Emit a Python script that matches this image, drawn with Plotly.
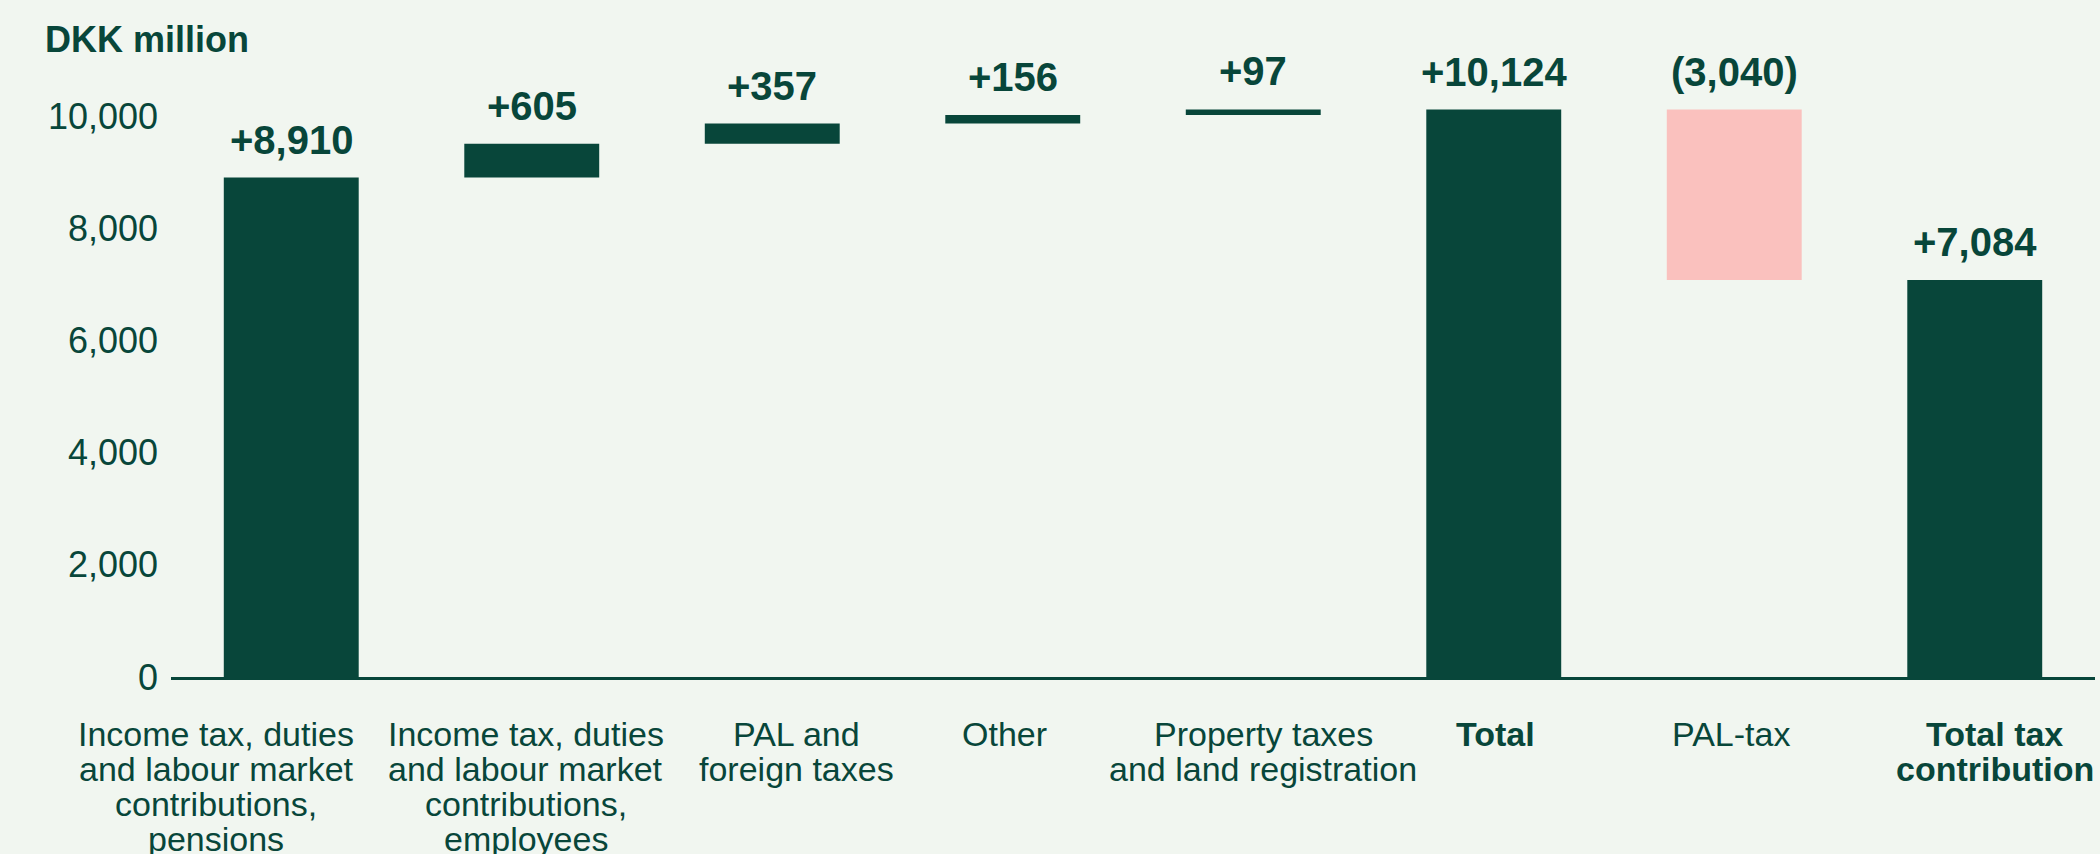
import plotly.graph_objects as go

# Data
categories = [
    "Income tax, duties<br>and labour market<br>contributions,<br>pensions",
    "Income tax, duties<br>and labour market<br>contributions,<br>employees",
    "PAL and<br>foreign taxes",
    "Other",
    "Property taxes<br>and land registration",
    "Total",
    "PAL-tax",
    "Total tax<br>contribution",
]
bold_category = [False, False, False, False, False, True, False, True]
values = [8910, 605, 357, 156, 97, 10124, -3040, 7084]
measures = ["relative", "relative", "relative", "relative", "relative", "total", "relative", "total"]
value_labels = ["+8,910", "+605", "+357", "+156", "+97", "+10,124", "(3,040)", "+7,084"]
y_ticks = [0, 2000, 4000, 6000, 8000, 10000]

DARK = "#08463A"
PINK = "#FAC1BE"
BG = "#F1F6F0"
FONT = "Liberation Sans, Arial, sans-serif"

# horizontal nudges for the category labels (px), the first one sits left of its bar
label_xshift = [-75, -6, 24, -8, 10, 2, -3, 20]
LINE_STEP = 35

# Bases and heights for the floating bars
bases, heights, colors = [], [], []
running = 0
for v, m in zip(values, measures):
    if m == "total":
        bases.append(0)
        heights.append(v)
        running = v
        colors.append(DARK)
    elif v >= 0:
        bases.append(running)
        heights.append(v)
        running += v
        colors.append(DARK)
    else:
        bases.append(running + v)
        heights.append(-v)
        running += v
        colors.append(PINK)

fig = go.Figure(go.Bar(
    x=list(range(len(categories))),
    y=heights,
    base=bases,
    marker=dict(color=colors, line=dict(width=0)),
    hoverinfo="skip",
))

# Value labels above each bar
for i, (b, h, t) in enumerate(zip(bases, heights, value_labels)):
    fig.add_annotation(
        x=i, y=b + h, text=f"<b>{t}</b>",
        showarrow=False, yanchor="bottom", yshift=14,
        font=dict(size=40, color=DARK, family=FONT),
    )

# Category labels, one annotation per line to keep the tight line spacing
for i, (cat, bold) in enumerate(zip(categories, bold_category)):
    for k, line in enumerate(cat.split("<br>")):
        fig.add_annotation(
            x=i, xref="x", y=0, yref="paper",
            text=f"<b>{line}</b>" if bold else line,
            showarrow=False, xanchor="center", yanchor="top",
            xshift=label_xshift[i], yshift=-36 - k * LINE_STEP,
            font=dict(size=34, color=DARK, family=FONT),
        )

fig.update_layout(
    width=2100, height=854,
    paper_bgcolor=BG, plot_bgcolor=BG,
    margin=dict(l=171, r=5, t=66, b=177),
    bargap=0.439,
    showlegend=False,
    font=dict(family=FONT, color=DARK),
    title=dict(
        text="<b>DKK million</b>",
        font=dict(size=36, color=DARK, family=FONT),
        x=45 / 2100, xanchor="left", xref="container",
        y=1 - 39.5 / 854, yanchor="middle", yref="container",
    ),
)

fig.update_xaxes(
    range=[-0.5, len(categories) - 0.5],
    showgrid=False, zeroline=False, showticklabels=False,
    showline=True, linecolor=DARK, linewidth=3,
    ticks="", automargin=False,
)

fig.update_yaxes(
    range=[0, 10900],
    tickvals=y_ticks,
    tickformat=",d",
    showgrid=False, zeroline=False, showline=False,
    ticks="", ticklabelstandoff=12, automargin=False,
    tickfont=dict(size=36, color=DARK, family=FONT),
)

fig.write_html(
    "out.html",
    config={"displayModeBar": False},
    post_script="document.body.style.margin='0';document.body.style.background='%s';" % BG,
)
